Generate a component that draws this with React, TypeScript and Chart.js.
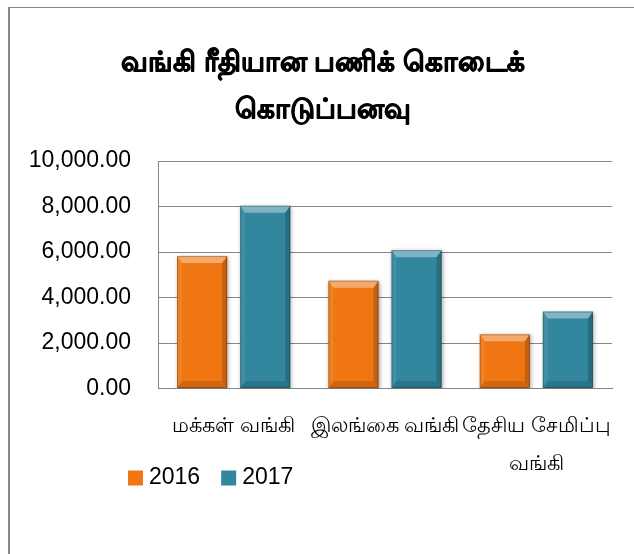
import React, { useEffect, useRef } from "react";
import { Chart, registerables } from "chart.js";

Chart.register(...registerables);

// ---- data ----
const categories: (string | string[])[] = [
  "மக்கள் வங்கி",
  "இலங்கை வங்கி",
  ["தேசிய சேமிப்பு", "வங்கி"],
];
const seriesNames = ["2016", "2017"];
const values2016 = [5820, 4740, 2380];
const values2017 = [8030, 6080, 3380];
const yTickValues = [0, 2000, 4000, 6000, 8000, 10000];
const titleLines = ["வங்கி ரீதியான பணிக் கொடைக்", "கொடுப்பனவு"];

const FONT = "'Liberation Sans', Arial, 'Noto Sans', sans-serif";
const ORANGE = "#EF7613";
const TEAL = "#32869E";
const GRID = "#868686";

const bevelPlugin = {
  id: "bevel",
  beforeDatasetsDraw(chart: any) {
    const ctx = chart.ctx;
    ctx.save();
    ctx.shadowColor = "rgba(0,0,0,0.35)";
    ctx.shadowBlur = 4;
    ctx.shadowOffsetX = 1;
    ctx.shadowOffsetY = 1;
  },
  afterDatasetsDraw(chart: any) {
    const ctx = chart.ctx;
    ctx.restore();
    chart.data.datasets.forEach((_ds: any, di: number) => {
      const meta = chart.getDatasetMeta(di);
      meta.data.forEach((bar: any) => {
        const { x, y, base, width } = bar.getProps(["x", "y", "base", "width"], true);
        const l = x - width / 2;
        const r = x + width / 2;
        const t = y;
        const b = base;
        const dv = Math.min(7, (b - t) / 4);
        const dh = 5;
        ctx.save();
        ctx.fillStyle = "rgba(255,255,255,0.38)";
        ctx.beginPath();
        ctx.moveTo(l, t);
        ctx.lineTo(r, t);
        ctx.lineTo(r - dh, t + dv);
        ctx.lineTo(l + dh, t + dv);
        ctx.closePath();
        ctx.fill();
        ctx.fillStyle = "rgba(255,255,255,0.08)";
        ctx.beginPath();
        ctx.moveTo(l, t);
        ctx.lineTo(l + dh, t + dv);
        ctx.lineTo(l + dh, b - dv);
        ctx.lineTo(l, b);
        ctx.closePath();
        ctx.fill();
        ctx.fillStyle = "rgba(0,0,0,0.18)";
        ctx.beginPath();
        ctx.moveTo(r, t);
        ctx.lineTo(r - dh, t + dv);
        ctx.lineTo(r - dh, b - dv);
        ctx.lineTo(r, b);
        ctx.closePath();
        ctx.fill();
        ctx.fillStyle = "rgba(0,0,0,0.12)";
        ctx.beginPath();
        ctx.moveTo(l, b);
        ctx.lineTo(r, b);
        ctx.lineTo(r - dh, b - dv);
        ctx.lineTo(l + dh, b - dv);
        ctx.closePath();
        ctx.fill();
        ctx.strokeStyle = "rgba(0,0,0,0.25)";
        ctx.lineWidth = 1;
        ctx.strokeRect(l + 0.5, t + 0.5, width - 1, b - t - 1);
        ctx.restore();
      });
    });
  },
};

const titlePlugin = {
  id: "customTitle",
  afterDraw(chart: any) {
    const ctx = chart.ctx;
    ctx.save();
    ctx.fillStyle = "#000";
    ctx.strokeStyle = "#000";
    ctx.lineWidth = 0.9;
    ctx.lineJoin = "round";
    ctx.font = `bold 28px ${FONT}`;
    ctx.textAlign = "center";
    ctx.textBaseline = "middle";
    const cx = 313;
    ctx.fillText(titleLines[0], cx, 55);
    ctx.strokeText(titleLines[0], cx, 55);
    ctx.fillText(titleLines[1], cx, 102);
    ctx.strokeText(titleLines[1], cx, 102);
    ctx.restore();
  },
};

// place the legend under the plot, left-aligned like the original
const legendPlacePlugin = {
  id: "legendPlace",
  afterLayout(chart: any) {
    const lg = chart.legend;
    if (!lg) return;
    const h = lg.height;
    lg.left = 97;
    lg.top = 432;
    lg.bottom = 432 + h;
  },
};

export default function App() {
  const ref = useRef<HTMLCanvasElement | null>(null);

  useEffect(() => {
    if (!ref.current) return;
    const chart = new Chart(ref.current, {
      type: "bar",
      data: {
        labels: categories as any,
        datasets: [
          {
            label: seriesNames[0],
            data: values2016,
            backgroundColor: ORANGE,
            borderWidth: 0,
            categoryPercentage: 0.834,
            barPercentage: 0.794,
          },
          {
            label: seriesNames[1],
            data: values2017,
            backgroundColor: TEAL,
            borderWidth: 0,
            categoryPercentage: 0.834,
            barPercentage: 0.794,
          },
        ],
      },
      plugins: [bevelPlugin, titlePlugin, legendPlacePlugin],
      options: {
        responsive: false,
        animation: false,
        layout: { padding: { left: 10, right: 22, top: 153, bottom: 6 } },
        plugins: {
          title: { display: false },
          tooltip: { enabled: false },
          legend: {
            display: true,
            position: "bottom",
            align: "start",
            labels: {
              usePointStyle: true,
              pointStyle: "rect",
              boxWidth: 4,
              boxHeight: 15,
              padding: 26.5,
              color: "#000",
              font: { family: FONT, size: 23 },
            },
          },
        },
        scales: {
          x: {
            grid: { display: false },
            border: { display: true, color: GRID, width: 1 },
            ticks: {
              color: "#000",
              padding: 11,
              maxRotation: 0,
              autoSkip: false,
              font: { family: FONT, size: 21, lineHeight: 1.81 },
            },
            afterFit(scale: any) {
              scale.height = 100;
            },
          },
          y: {
            min: 0,
            max: 10000,
            afterBuildTicks(scale: any) {
              scale.ticks = yTickValues.map((v) => ({ value: v }));
            },
            grid: { color: GRID, lineWidth: 1, drawTicks: false },
            border: { display: true, color: GRID, width: 1 },
            ticks: {
              color: "#000",
              padding: 27,
              font: { family: FONT, size: 23 },
              callback: (v: any) =>
                Number(v).toLocaleString("en-US", {
                  minimumFractionDigits: 2,
                  maximumFractionDigits: 2,
                }),
            },
            afterFit(scale: any) {
              scale.width = 138;
            },
          },
        },
      },
    });
    return () => chart.destroy();
  }, []);

  return (
    <div
      style={{
        position: "fixed",
        left: 8,
        top: 7,
        right: 0,
        bottom: 0,
        borderLeft: "2px solid #868686",
        borderTop: "1px solid #868686",
        background: "#fff",
      }}
    >
      <canvas ref={ref} width={624} height={546} style={{ display: "block" }} />
    </div>
  );
}
